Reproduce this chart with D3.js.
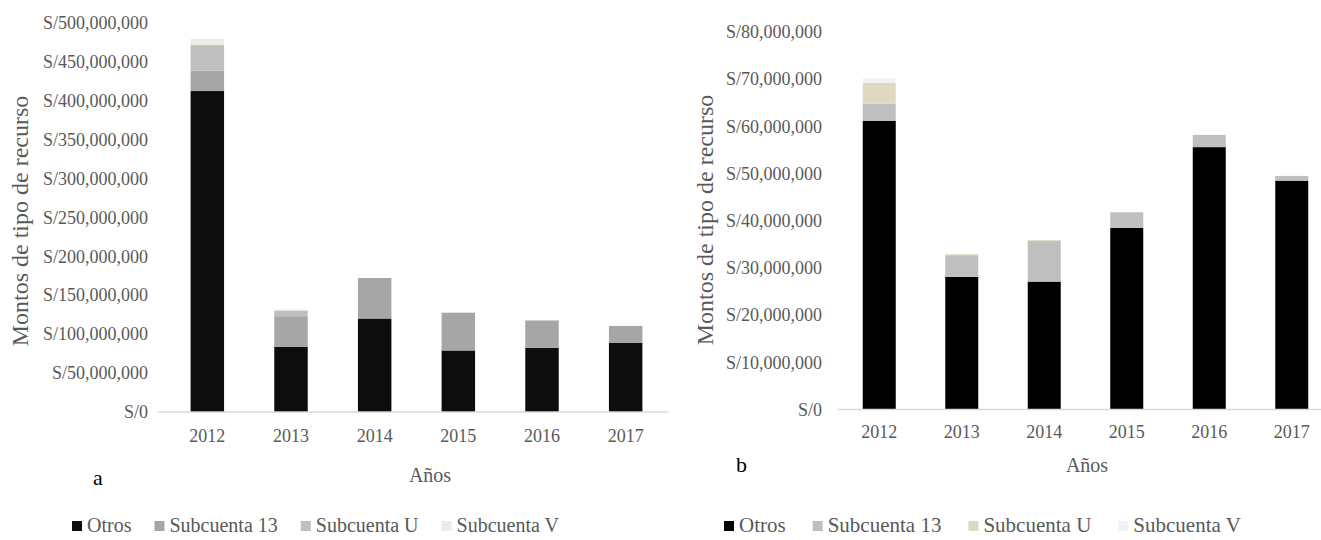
<!DOCTYPE html>
<html>
  <head>
    <meta charset="utf-8" />
    <title>Montos de tipo de recurso</title>
    <script src="https://cdnjs.cloudflare.com/ajax/libs/d3/7.8.5/d3.min.js"></script>
    <style>
      body {
        margin: 0;
        background: #ffffff;
        font-family: "Liberation Serif", "DejaVu Serif", serif;
      }
      .tick-label {
        fill: #595959;
        font-size: 18px;
      }
      .axis-title {
        fill: #595959;
        font-size: 24px;
      }
      .x-title {
        fill: #595959;
        font-size: 20px;
      }
      .legend-text {
        fill: #595959;
        font-size: 20px;
      }
      .panel-letter {
        fill: #000000;
        font-size: 22px;
      }
      .baseline {
        stroke: #d9d9d9;
        stroke-width: 1.5px;
      }
    </style>
  </head>
  <body>
    <svg id="chart" width="1321" height="540"></svg>
    <script>
      // ---- data ----
      const years = ["2012", "2013", "2014", "2015", "2016", "2017"];
      const seriesNames = ["Otros", "Subcuenta 13", "Subcuenta U", "Subcuenta V"];

      // panel a (soles)
      const aOtros = [412e6, 83.5e6, 120e6, 79e6, 82.5e6, 89e6];
      const aSub13 = [26e6, 39.5e6, 52e6, 48.5e6, 35e6, 21.5e6];
      const aSubU = [33e6, 7.3e6, 0, 0, 0, 0];
      const aSubV = [8e6, 1.3e6, 0, 0, 0, 0];
      const aTicks = d3.range(0, 500e6 + 1, 50e6);

      // panel b (soles)
      const bOtros = [61.2e6, 28.1e6, 27.1e6, 38.5e6, 55.6e6, 48.5e6];
      const bSub13 = [3.6e6, 4.6e6, 8.6e6, 3.3e6, 2.6e6, 1.0e6];
      const bSubU = [4.4e6, 0.2e6, 0.2e6, 0, 0, 0];
      const bSubV = [1.0e6, 0, 0, 0, 0, 0];
      const bTicks = d3.range(0, 80e6 + 1, 10e6);

      const svg = d3.select("#chart");
      const money = (v) => "S/" + d3.format(",")(v);

      function drawPanel(opt) {
        const g = svg.append("g");
        const x = d3
          .scaleBand()
          .domain(years)
          .range(opt.xRange)
          .paddingInner(0.6)
          .paddingOuter(0.3);
        const y = d3.scaleLinear().domain(opt.yDomain).range(opt.yRange);

        // stacked rows
        const rows = years.map((yr, i) => {
          const r = { year: yr };
          seriesNames.forEach((s, k) => (r[s] = opt.values[k][i]));
          return r;
        });
        const stacked = d3.stack().keys(seriesNames)(rows);

        // y tick labels (no axis line)
        g.selectAll("text.ylab")
          .data(opt.ticks)
          .enter()
          .append("text")
          .attr("class", "tick-label")
          .attr("x", opt.yLabelX)
          .attr("y", (d) => y(d))
          .attr("dy", "0.35em")
          .attr("text-anchor", "end")
          .text(money);

        // bars
        g.selectAll("g.series")
          .data(stacked)
          .enter()
          .append("g")
          .attr("fill", (d, k) => opt.colors[k])
          .selectAll("rect")
          .data((d) => d)
          .enter()
          .append("rect")
          .attr("x", (d) => x(d.data.year))
          .attr("width", x.bandwidth())
          .attr("y", (d) => y(d[1]))
          .attr("height", (d) => Math.max(0, y(d[0]) - y(d[1])));

        // horizontal axis line
        g.append("line")
          .attr("class", "baseline")
          .attr("x1", opt.axisStart)
          .attr("x2", opt.xRange[1])
          .attr("y1", y(0))
          .attr("y2", y(0));

        // year labels
        g.selectAll("text.xlab")
          .data(years)
          .enter()
          .append("text")
          .attr("class", "tick-label")
          .attr("x", (d) => x(d) + x.bandwidth() / 2)
          .attr("y", opt.yearY)
          .attr("text-anchor", "middle")
          .text((d) => d);

        // axis titles
        g.append("text")
          .attr("class", "axis-title")
          .attr("transform", `translate(${opt.yTitle[0]},${opt.yTitle[1]}) rotate(-90)`)
          .attr("text-anchor", "middle")
          .text("Montos de tipo de recurso");

        g.append("text")
          .attr("class", "x-title")
          .attr("x", opt.xTitle[0])
          .attr("y", opt.xTitle[1])
          .attr("text-anchor", "middle")
          .text("Años");

        g.append("text")
          .attr("class", "panel-letter")
          .attr("x", opt.letterPos[0])
          .attr("y", opt.letterPos[1])
          .text(opt.letter);

        // legend
        let lx = opt.legendX;
        seriesNames.forEach((s, k) => {
          g.append("rect")
            .attr("x", lx)
            .attr("y", opt.legendY - 11)
            .attr("width", 10)
            .attr("height", 10)
            .attr("fill", opt.colors[k]);
          const t = g
            .append("text")
            .attr("class", "legend-text")
            .style("font-size", opt.legendFont + "px")
            .attr("x", lx + 15)
            .attr("y", opt.legendY)
            .text(s);
          lx += 15 + t.node().getComputedTextLength() + opt.legendGap;
        });
      }

      drawPanel({
        values: [aOtros, aSub13, aSubU, aSubV],
        colors: ["#0d0d0d", "#a6a6a6", "#bfbfbf", "#eeece1"],
        ticks: aTicks,
        xRange: [165.5, 667.5],
        axisStart: 158,
        yDomain: [0, 500e6],
        yRange: [412, 22.5],
        yLabelX: 148,
        yearY: 442,
        yTitle: [28, 221],
        xTitle: [430, 482],
        letter: "a",
        letterPos: [93, 485],
        legendX: 72,
        legendY: 532,
        legendGap: 23,
        legendFont: 20,
      });

      drawPanel({
        values: [bOtros, bSub13, bSubU, bSubV],
        colors: ["#000000", "#bfbfbf", "#ddd9c3", "#f2f2f2"],
        ticks: bTicks,
        xRange: [838, 1333],
        axisStart: 838,
        yDomain: [0, 80e6],
        yRange: [409.5, 32],
        yLabelX: 822,
        yearY: 438,
        yTitle: [713, 220],
        xTitle: [1087, 472],
        letter: "b",
        letterPos: [736, 472],
        legendX: 724,
        legendY: 532,
        legendGap: 27,
        legendFont: 21,
      });
    </script>
  </body>
</html>
